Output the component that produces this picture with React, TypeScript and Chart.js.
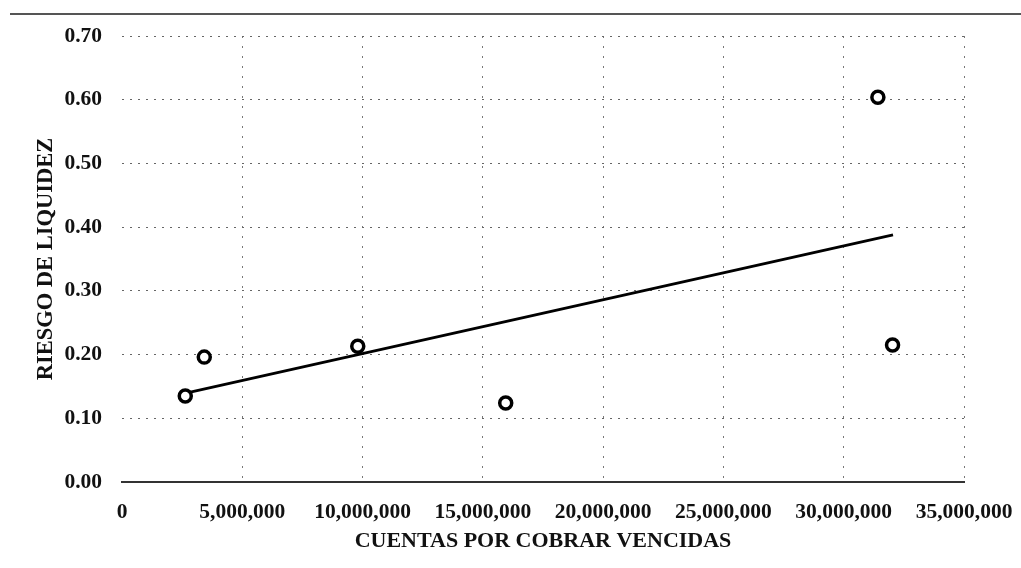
import React, { useEffect, useRef } from "react";
import { Chart, registerables } from "chart.js";

Chart.register(...registerables);

// Data
const receivables = [2630000, 3420000, 9800000, 15950000, 31420000, 32030000];
const liquidityRisk = [0.135, 0.196, 0.213, 0.124, 0.604, 0.215];
const trendX = [2700000, 32050000];
const trendY = [0.14, 0.388];
const xTicks = [0, 5000000, 10000000, 15000000, 20000000, 25000000, 30000000, 35000000];
const yTicks = [0, 0.1, 0.2, 0.3, 0.4, 0.5, 0.6, 0.7];
const xTitle = "CUENTAS POR COBRAR VENCIDAS";
const yTitle = "RIESGO DE LIQUIDEZ";

const FONT = '"Liberation Serif", "Times New Roman", serif';

export default function App() {
  const ref = useRef<HTMLCanvasElement | null>(null);

  useEffect(() => {
    if (!ref.current) return;
    const chart = new Chart(ref.current, {
      type: "scatter",
      data: {
        datasets: [
          {
            type: "line",
            data: trendX.map((x, i) => ({ x, y: trendY[i] })),
            borderColor: "#000",
            borderWidth: 2.8,
            pointRadius: 0,
            fill: false,
            order: 2,
          },
          {
            data: receivables.map((x, i) => ({ x, y: liquidityRisk[i] })),
            backgroundColor: "#fff",
            borderColor: "#000",
            borderWidth: 3.5,
            pointRadius: 6,
            pointStyle: "circle",
            order: 1,
          },
        ],
      },
      options: {
        animation: false,
        responsive: true,
        maintainAspectRatio: false,
        layout: { padding: { top: 36, right: 57, left: 0, bottom: 0 } },
        plugins: {
          legend: { display: false },
          tooltip: { enabled: false },
        },
        scales: {
          x: {
            type: "linear",
            min: 0,
            max: 35000000,
            afterBuildTicks: (s: any) => {
              s.ticks = xTicks.map((v) => ({ value: v }));
            },
            afterFit: (s: any) => {
              s.height = 86;
              s.paddingRight = 0;
              s.paddingLeft = 0;
            },
            ticks: {
              color: "#111",
              padding: 18,
              maxRotation: 0,
              font: { family: FONT, size: 21.5, weight: "bold" },
              callback: (v: any) => Number(v).toLocaleString("en-US"),
            },
            grid: {
              drawTicks: false,
              lineWidth: 1,
              color: (ctx: any) => (ctx.tick && ctx.tick.value === 0 ? "rgba(0,0,0,0)" : "#777"),
            },
            border: { display: true, color: "#333", width: 2, dash: [2, 8] },
            title: {
              display: true,
              text: xTitle,
              color: "#111",
              font: { family: FONT, size: 22, weight: "bold" },
              padding: { top: 0, bottom: 13 },
            },
          },
          y: {
            type: "linear",
            min: 0,
            max: 0.7,
            afterBuildTicks: (s: any) => {
              s.ticks = yTicks.map((v) => ({ value: v }));
            },
            afterFit: (s: any) => {
              s.width = 122;
              s.paddingTop = 0;
              s.paddingBottom = 0;
            },
            ticks: {
              color: "#111",
              padding: 20,
              font: { family: FONT, size: 21.5, weight: "bold" },
              callback: (v: any) => Number(v).toFixed(2),
            },
            grid: {
              drawTicks: false,
              lineWidth: 1,
              color: (ctx: any) => (ctx.tick && ctx.tick.value === 0 ? "rgba(0,0,0,0)" : "#666"),
            },
            border: { display: false, dash: [2, 6] },
            title: {
              display: true,
              text: yTitle,
              color: "#111",
              font: { family: FONT, size: 22.5, weight: "bold" },
              padding: { top: 33, bottom: 0 },
            },
          },
        },
      },
    } as any);
    return () => chart.destroy();
  }, []);

  return (
    <div style={{ position: "fixed", left: 0, top: 0, width: 1021, height: 568, background: "#fff" }}>
      <div
        style={{
          position: "absolute",
          left: 10,
          right: 0,
          top: 13,
          height: 0,
          borderTop: "2px solid #555",
        }}
      />
      <canvas ref={ref} />
    </div>
  );
}
